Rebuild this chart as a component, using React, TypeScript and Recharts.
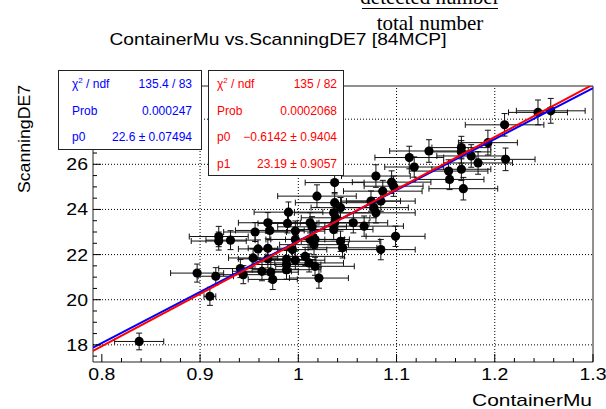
import React from 'react';
import { ComposedChart, Scatter, XAxis, YAxis, ErrorBar, ReferenceLine, ReferenceArea } from 'recharts';

// ---- data ----
const xValues = [0.838, 0.897, 0.916, 0.910, 0.919, 0.919, 0.931, 0.941, 0.944, 0.954, 0.956, 0.959, 0.963, 0.969, 0.971, 0.969, 0.969, 0.972, 0.974, 0.990, 0.989, 0.988, 0.988, 1.037, 1.019, 1.079, 1.095, 1.086, 1.084, 1.074, 1.037, 1.043, 1.077, 1.079, 1.036, 1.038, 1.012, 1.014, 0.997, 1.036, 1.037, 1.056, 1.067, 1.099, 1.043, 1.045, 1.012, 1.016, 1.017, 0.997, 0.994, 1.084, 1.007, 0.997, 1.011, 0.988, 1.017, 1.021, 1.244, 1.257, 1.210, 1.193, 1.211, 1.166, 1.166, 1.176, 1.183, 1.133, 1.113, 1.118, 1.153, 1.166, 1.154, 1.168, 1.097];
const yValues = [18.15, 21.18, 21.04, 20.15, 22.80, 22.60, 22.64, 21.38, 21.11, 21.85, 23.00, 22.25, 21.26, 23.41, 23.07, 22.28, 21.81, 21.22, 20.90, 23.88, 23.38, 21.78, 21.33, 25.19, 24.59, 25.48, 25.21, 24.81, 24.37, 24.37, 24.30, 24.08, 24.08, 23.85, 23.85, 23.63, 23.41, 23.23, 23.04, 23.11, 23.41, 23.41, 23.26, 22.81, 22.59, 22.30, 22.67, 22.44, 22.67, 22.67, 22.22, 22.22, 21.92, 21.75, 21.63, 21.56, 21.48, 20.96, 28.30, 28.37, 27.75, 26.96, 26.22, 26.74, 26.55, 26.37, 26.06, 26.59, 26.30, 25.88, 25.70, 25.78, 25.33, 24.92, 25.03];
const xErrors = [0.025, 0.027, 0.018, 0.006, 0.030, 0.028, 0.025, 0.022, 0.030, 0.025, 0.032, 0.020, 0.030, 0.030, 0.035, 0.020, 0.030, 0.028, 0.025, 0.035, 0.030, 0.030, 0.035, 0.030, 0.040, 0.035, 0.040, 0.040, 0.035, 0.030, 0.040, 0.030, 0.035, 0.040, 0.040, 0.035, 0.040, 0.035, 0.030, 0.040, 0.035, 0.035, 0.040, 0.030, 0.040, 0.035, 0.040, 0.035, 0.030, 0.030, 0.035, 0.035, 0.040, 0.030, 0.035, 0.035, 0.040, 0.030, 0.030, 0.035, 0.040, 0.030, 0.030, 0.030, 0.030, 0.035, 0.035, 0.040, 0.035, 0.030, 0.040, 0.030, 0.035, 0.035, 0.030];
const yErrors = [0.37, 0.40, 0.38, 0.40, 0.45, 0.40, 0.42, 0.40, 0.40, 0.40, 0.42, 0.40, 0.42, 0.45, 0.42, 0.42, 0.40, 0.42, 0.45, 0.45, 0.42, 0.40, 0.42, 0.50, 0.50, 0.50, 0.50, 0.48, 0.45, 0.45, 0.45, 0.45, 0.45, 0.45, 0.45, 0.45, 0.45, 0.45, 0.45, 0.45, 0.45, 0.45, 0.45, 0.45, 0.45, 0.45, 0.45, 0.45, 0.42, 0.45, 0.45, 0.45, 0.40, 0.40, 0.40, 0.40, 0.40, 0.45, 0.55, 0.55, 0.50, 0.55, 0.50, 0.50, 0.50, 0.50, 0.50, 0.50, 0.50, 0.45, 0.50, 0.50, 0.45, 0.50, 0.45];

// fit lines (end points evaluated from the fit parameters shown in the stat boxes)
const blueFitX = [0.791, 1.3];
const blueFitY = [17.877, 29.38];
const redFitX = [0.791, 1.3];
const redFitY = [17.729, 29.533];

const xDomain = [0.791, 1.3];
const yDomain = [17.24, 29.47];
const xTicks = [0.8, 0.82, 0.84, 0.86, 0.88, 0.9, 0.92, 0.94, 0.96, 0.98, 1.0, 1.02, 1.04, 1.06, 1.08, 1.1, 1.12, 1.14, 1.16, 1.18, 1.2, 1.22, 1.24, 1.26, 1.28, 1.3];
const xMajor = [0.8, 0.9, 1.0, 1.1, 1.2, 1.3];
const xMajorLabels = ['0.8', '0.9', '1', '1.1', '1.2', '1.3'];
const yTicks = [17.5, 18, 18.5, 19, 19.5, 20, 20.5, 21, 21.5, 22, 22.5, 23, 23.5, 24, 24.5, 25, 25.5, 26, 26.5, 27, 27.5, 28, 28.5, 29];
const yMajor = [18, 20, 22, 24, 26, 28];
// the "28" label is hidden behind the blue stat box in the reference
const yMajorLabels = ['18', '20', '22', '24', '26', ''];
const gridX = [0.9, 1.0, 1.1, 1.2];
const gridY = [18, 20, 22, 24, 26, 28];

const blueStats = [
  ['χ² / ndf', '135.4 / 83'],
  ['Prob', '0.000247'],
  ['p0', '22.6 ± 0.07494'],
];
const redStats = [
  ['χ² / ndf', '135 / 82'],
  ['Prob', '0.0002068'],
  ['p0', '−0.6142 ± 0.9404'],
  ['p1', '23.19 ± 0.9057'],
];

const points = xValues.map((x, i) => ({ x, y: yValues[i], ex: xErrors[i], ey: yErrors[i] }));
const blueLine = blueFitX.map((x, i) => ({ x, y: blueFitY[i] }));
const redLine = redFitX.map((x, i) => ({ x, y: redFitY[i] }));

const SANS = "'Liberation Sans', Arial, Helvetica, sans-serif";
const SERIF = "'Liberation Serif', 'Times New Roman', serif";

const near = (a: number, b: number) => Math.abs(a - b) < 1e-6;

const XTick = (props: any) => {
  const { x, y, payload } = props;
  const v = payload.value;
  const mi = xMajor.findIndex((m) => near(m, v));
  const major = mi >= 0;
  return (
    <g>
      <line x1={x} x2={x} y1={y} y2={y - (major ? 8 : 4)} stroke="#000" strokeWidth={1} />
      {major && xMajorLabels[mi] !== '' && (
        <text
          x={0}
          y={0}
          transform={`translate(${x},${y + 18}) scale(1.18,1)`}
          textAnchor="middle"
          fontSize={16.5}
          fontFamily={SANS}
          fill="#000"
        >
          {xMajorLabels[mi]}
        </text>
      )}
    </g>
  );
};

const YTick = (props: any) => {
  const { x, y, payload } = props;
  const v = payload.value;
  const mi = yMajor.findIndex((m) => near(m, v));
  const major = mi >= 0;
  return (
    <g>
      <line x1={x} x2={x + (major ? 8 : 4)} y1={y} y2={y} stroke="#000" strokeWidth={1} />
      {major && yMajorLabels[mi] !== '' && (
        <text
          x={0}
          y={0}
          transform={`translate(${x - 5},${y + 6}) scale(1.18,1)`}
          textAnchor="end"
          fontSize={16.5}
          fontFamily={SANS}
          fill="#000"
        >
          {yMajorLabels[mi]}
        </text>
      )}
    </g>
  );
};

const Dot = (p: any) => <circle cx={p.cx} cy={p.cy} r={4.6} fill="#000" />;
const NoDot = () => <g />;

const StatBox = ({ rows, color, left, top, width, padL, padR }: any) => (
  <div
    style={{
      position: 'absolute',
      left,
      top,
      width,
      height: rows.length * 26.6,
      border: '1px solid #222',
      boxSizing: 'border-box',
      background: '#fff',
      fontFamily: SANS,
      fontSize: 12,
      color,
    }}
  >
    {rows.map((r: string[], i: number) => (
      <div
        key={i}
        style={{ position: 'absolute', left: padL, right: padR, top: 5 + i * 26.6, height: 16, lineHeight: '16px' }}
      >
        <span style={{ position: 'absolute', left: 0 }}>
          {r[0].startsWith('χ²') ? (
            <>
              χ<sup style={{ fontSize: 8, verticalAlign: 'top', lineHeight: '10px' }}>2</sup> / ndf
            </>
          ) : (
            r[0]
          )}
        </span>
        <span style={{ position: 'absolute', right: 0, whiteSpace: 'nowrap' }}>{r[1]}</span>
      </div>
    ))}
  </div>
);

export default function App() {
  return (
    <div style={{ position: 'absolute', left: 0, top: 0, width: 606, height: 409, background: '#fff', overflow: 'hidden' }}>
      <ComposedChart width={606} height={409} margin={{ top: 86, right: 13, bottom: 0, left: 0 }}>
        <XAxis
          type="number"
          dataKey="x"
          domain={xDomain}
          allowDataOverflow
          ticks={xTicks}
          interval={0}
          tick={<XTick />}
          tickLine={false}
          axisLine={false}
          tickSize={0}
          tickMargin={0}
          height={47}
        />
        <YAxis
          type="number"
          dataKey="y"
          domain={yDomain}
          allowDataOverflow
          ticks={yTicks}
          interval={0}
          tick={<YTick />}
          tickLine={false}
          axisLine={false}
          tickSize={0}
          tickMargin={0}
          width={93}
        />
        {gridX.map((v) => (
          <ReferenceLine key={'gx' + v} x={v} stroke="#000" strokeDasharray="1 2" strokeWidth={1} />
        ))}
        {gridY.map((v) => (
          <ReferenceLine key={'gy' + v} y={v} stroke="#000" strokeDasharray="1 2" strokeWidth={1} />
        ))}
        <ReferenceArea
          x1={xDomain[0]}
          x2={xDomain[1]}
          y1={yDomain[0]}
          y2={yDomain[1]}
          fill="none"
          fillOpacity={0}
          stroke="#222"
          strokeWidth={1}
          ifOverflow="visible"
        />
        <Scatter data={points} dataKey="y" fill="#000" shape={Dot} isAnimationActive={false}>
          <ErrorBar dataKey="ex" direction="x" width={3} stroke="#111" strokeWidth={1} isAnimationActive={false} />
          <ErrorBar dataKey="ey" direction="y" width={3} stroke="#111" strokeWidth={1} isAnimationActive={false} />
        </Scatter>
        <Scatter data={blueLine} dataKey="y" fill="none" shape={NoDot} line={{ stroke: '#0000ff', strokeWidth: 2 }} isAnimationActive={false} />
        <Scatter data={redLine} dataKey="y" fill="none" shape={NoDot} line={{ stroke: '#ff0000', strokeWidth: 2 }} isAnimationActive={false} />
      </ComposedChart>

      <svg width={606} height={409} style={{ position: 'absolute', left: 0, top: 0, pointerEvents: 'none' }}>
        <text x={430} y={4} textAnchor="middle" fontFamily={SERIF} fontSize={21} fill="#000">
          detected number
        </text>
        <line x1={362} x2={498} y1={8.5} y2={8.5} stroke="#000" strokeWidth={1.2} />
        <text x={430} y={30} textAnchor="middle" fontFamily={SERIF} fontSize={21} fill="#000">
          total number
        </text>
        <text x={278} y={45} textAnchor="middle" fontFamily={SANS} fontSize={17} fill="#000" textLength={337} lengthAdjust="spacingAndGlyphs">
          ContainerMu vs.ScanningDE7 [84MCP]
        </text>
        <text
          x={0}
          y={0}
          transform="translate(30,139) rotate(-90)"
          textAnchor="middle"
          fontFamily={SANS}
          fontSize={17}
          fill="#000"
          textLength={108}
          lengthAdjust="spacingAndGlyphs"
        >
          ScanningDE7
        </text>
        <text x={592} y={406} textAnchor="end" fontFamily={SANS} fontSize={17} fill="#000" textLength={120} lengthAdjust="spacingAndGlyphs">
          ContainerMu
        </text>
      </svg>

      <StatBox rows={blueStats} color="#0000ff" left={58} top={70} width={144} padL={13} padR={9} />
      <StatBox rows={redStats} color="#ff0000" left={208} top={70} width={136} padL={8} padR={6} />
    </div>
  );
}
